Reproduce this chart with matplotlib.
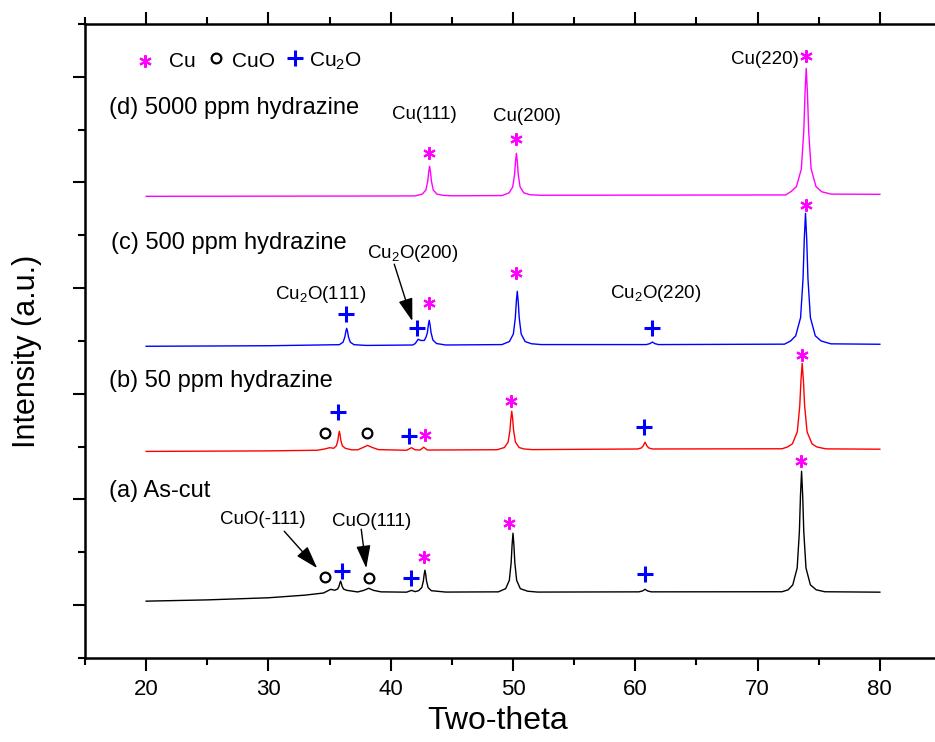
import matplotlib
matplotlib.use("Agg")
import matplotlib.pyplot as plt
from matplotlib.ticker import MultipleLocator

plt.rcParams['font.family'] = ['Liberation Sans', 'DejaVu Sans']
plt.rcParams['mathtext.fontset'] = 'custom'
plt.rcParams['mathtext.rm'] = 'Liberation Sans'

# (a) as-cut
x_a = [20.0, 25.0, 30.0, 33.0, 34.5, 35.1, 35.42, 35.66, 35.78, 35.84, 35.9, 35.96, 36.02, 36.14, 36.38,
       37.3, 37.8, 38.2, 38.6, 39.2, 41.3, 41.7, 42.0, 42.28, 42.54, 42.67, 42.735, 42.8, 42.865, 42.93,
       43.06, 43.32, 44.5, 48.8, 49.4, 49.7, 49.85, 49.925, 50.0, 50.075, 50.15, 50.3, 50.6, 51.2, 52.0,
       60.3, 60.6, 60.8, 61.0, 61.3, 72.0, 72.5, 72.88, 73.24, 73.42, 73.51, 73.6, 73.69, 73.78, 73.96,
       74.32, 74.8, 75.5, 80.0]
y_a = [38, 50, 70, 95, 115, 150, 141, 153, 181, 209, 227, 209, 181, 153, 141,
       125, 140, 160, 140, 126, 123, 140, 128, 137, 166, 228, 290, 331, 290, 228,
       166, 137, 124, 126, 156, 235, 402, 569, 681, 569, 402, 235, 156, 132, 124,
       126, 135, 150, 135, 126, 127, 145, 192, 352, 695, 1038, 1267, 1038, 695, 352,
       192, 145, 127, 123]

# (b) 50 ppm
x_b = [20.0, 30.0, 34.0, 34.6, 35.0, 35.35, 35.56, 35.68, 35.74, 35.8, 35.86, 35.92, 36.04, 36.28, 36.8,
       37.3, 37.7, 38.1, 38.5, 39.0, 41.3, 41.7, 42.0, 42.4, 42.7, 43.0,
       48.7, 49.3, 49.6, 49.75, 49.825, 49.9, 49.975, 50.05, 50.2, 50.5, 50.9, 51.6,
       60.2, 60.5, 60.65, 60.8, 60.95, 61.1, 61.4,
       72.0, 72.45, 72.85, 73.25, 73.45, 73.55, 73.65, 73.75, 73.85, 74.05, 74.45, 74.85, 75.6, 80.0]
y_b = [1455, 1460, 1466, 1478, 1490, 1485, 1509, 1560, 1612, 1646, 1612, 1560, 1509, 1485, 1470,
       1470, 1490, 1512, 1492, 1472, 1466, 1490, 1470, 1468, 1495, 1468,
       1471, 1492, 1543, 1653, 1762, 1835, 1762, 1653, 1543, 1492, 1478, 1472,
       1478, 1488, 1508, 1542, 1508, 1488, 1478,
       1480, 1497, 1527, 1640, 1884, 2127, 2289, 2127, 1884, 1640, 1527, 1497, 1479, 1476]

# (c) 500 ppm
x_c = [20.0, 30.0, 35.8, 36.1, 36.25, 36.325, 36.4, 36.475, 36.55, 36.7, 37.0, 38.0,
       41.8, 42.0, 42.15, 42.25, 42.45, 42.75, 42.9, 43.0, 43.075, 43.15, 43.225, 43.3, 43.45, 43.75, 44.5,
       49.1, 49.71, 50.03, 50.19, 50.27, 50.35, 50.43, 50.51, 50.67, 50.99, 51.5, 52.3,
       60.9, 61.2, 61.4, 61.6, 61.9,
       72.2, 72.7, 73.12, 73.52, 73.72, 73.82, 73.92, 74.02, 74.12, 74.32, 74.72, 75.2, 76.0, 80.0]
y_c = [2450, 2455, 2465, 2488, 2537, 2587, 2620, 2587, 2537, 2488, 2465, 2458,
       2462, 2475, 2500, 2516, 2505, 2505, 2540, 2579, 2649, 2696, 2649, 2579, 2509, 2476, 2462,
       2466, 2495, 2566, 2718, 2869, 2970, 2869, 2718, 2566, 2495, 2474, 2466,
       2466, 2475, 2490, 2475, 2466,
       2470, 2500, 2549, 2722, 3092, 3461, 3708, 3461, 3092, 2722, 2549, 2500, 2473, 2469]

# (d) 5000 ppm
x_d = [20.0, 40.0, 42.0, 42.58, 42.88, 43.03, 43.105, 43.18, 43.255, 43.33, 43.48, 43.78, 44.3, 45.0,
       49.1, 49.68, 49.98, 50.13, 50.205, 50.28, 50.355, 50.43, 50.58, 50.88, 51.4, 52.2,
       72.3, 72.75, 73.18, 73.58, 73.78, 73.88, 73.98, 74.08, 74.18, 74.38, 74.78, 75.25, 76.0, 80.0]
y_d = [3869, 3872, 3873, 3890, 3929, 4013, 4097, 4153, 4097, 4013, 3929, 3890, 3878, 3874,
       3876, 3902, 3958, 4077, 4196, 4276, 4196, 4077, 3958, 3902, 3884, 3879,
       3882, 3915, 3961, 4128, 4485, 4842, 5080, 4842, 4485, 4128, 3961, 3912, 3890, 3888]

colors = ['black', '#FF0000', '#0000FF', '#FF00FF']

# phase symbols: x, y, kind
sym_x = [19.9, 25.7, 32.2,
         43.16, 50.28, 73.93,
         36.37, 42.18, 43.16, 50.28, 61.33, 74.0,
         35.7, 34.65, 38.1, 41.5, 42.83, 49.87, 60.75, 73.6,
         34.65, 36.04, 38.25, 41.69, 42.75, 49.7, 60.83, 73.52]
sym_y = [5146, 5175, 5175,
         4276, 4408, 5194,
         2753, 2620, 2857, 3141, 2620, 3784,
         1826, 1627, 1627, 1599, 1608, 1930, 1684, 2365,
         265, 322, 255, 255, 454, 776, 293, 1362]
sym_k = ['*', 'o', '+',
         '*', '*', '*',
         '+', '+', '*', '*', '+', '*',
         '+', 'o', 'o', '+', '*', '*', '+', '*',
         'o', '+', 'o', '+', '*', '*', '+', '*']

legend_txt = ['Cu', 'CuO', r'Cu$_\mathregular{2}$O']
legend_x = [21.9, 27.0, 33.3]
legend_y = 5146

series_txt = ['(d) 5000 ppm hydrazine', '(c) 500 ppm hydrazine', '(b) 50 ppm hydrazine', '(a) As-cut']
series_x = [17.0, 17.1, 17.0, 17.0]
series_y = [4702, 3424, 2119, 1078]

peak_txt = ['Cu(111)', 'Cu(200)', 'Cu(220)', r'Cu$_\mathregular{2}$O(111)', r'Cu$_\mathregular{2}$O(200)',
            r'Cu$_\mathregular{2}$O(220)', 'CuO(-111)', 'CuO(111)']
peak_x = [42.75, 51.1, 70.57, 34.3, 41.77, 61.65, 29.57, 38.4]
peak_y = [4645, 4626, 5165, 2942, 3330, 2952, 814, 795]

# arrows: (tail x, tail y, tip x, tip y)
arrows = [(40.29, 3227, 41.77, 2688),
          (31.29, 700, 33.99, 350),
          (37.59, 719, 38.0, 350)]

fig = plt.figure(figsize=(9.35, 7.42), dpi=100)
ax = fig.add_axes([0.0909, 0.1132, 0.9155, 0.8545])

for xs, ys, c in zip([x_a, x_b, x_c, x_d], [y_a, y_b, y_c, y_d], colors):
    ax.plot(xs, ys, color=c, lw=1.0)

for x, y, k in zip(sym_x, sym_y, sym_k):
    if k == '*':
        ax.plot(x, y, marker=(6, 2, 0), ms=9, mew=1.5, color='#FF00FF', ls='none')
    elif k == '+':
        ax.plot(x, y, marker='+', ms=11, mew=2.2, color='#0000FF', ls='none')
    else:
        ax.plot(x, y, marker='o', ms=7, mew=1.6, mfc='none', mec='black', ls='none')

for t, x in zip(legend_txt, legend_x):
    ax.text(x, legend_y, t, fontsize=15, ha='left', va='center')

for t, x, y in zip(series_txt, series_x, series_y):
    ax.text(x, y, t, fontsize=17, ha='left', va='center')

for t, x, y in zip(peak_txt, peak_x, peak_y):
    ax.text(x, y, t, fontsize=13.5, ha='center', va='center')

for x0, y0, x1, y1 in arrows:
    ax.annotate('', xy=(x1, y1), xytext=(x0, y0),
                arrowprops=dict(arrowstyle='-|>,head_length=0.7,head_width=0.22',
                                color='black', lw=1.0, mutation_scale=20, shrinkA=0, shrinkB=0))

ax.set_xlim(15, 85)
ax.set_ylim(-500, 5500)
ax.xaxis.set_major_locator(MultipleLocator(10))
ax.xaxis.set_minor_locator(MultipleLocator(5))
ax.yaxis.set_major_locator(MultipleLocator(1000))
ax.yaxis.set_minor_locator(MultipleLocator(500))
ax.tick_params(which='both', direction='out', top=True, right=False, labelleft=False, width=1.5)
ax.tick_params(which='major', length=9, labelsize=16, pad=6)
ax.tick_params(which='minor', length=5)
ax.spines['right'].set_visible(False)
for s in ['left', 'bottom', 'top']:
    ax.spines[s].set_linewidth(1.8)

ax.set_xlabel('Two-theta', fontsize=23)
ax.set_ylabel('Intensity (a.u.)', fontsize=22)
ax.xaxis.set_label_coords(0.4825, -0.075)
ax.yaxis.set_label_coords(-0.05, 0.484)

fig.savefig('out.png', dpi=100)
